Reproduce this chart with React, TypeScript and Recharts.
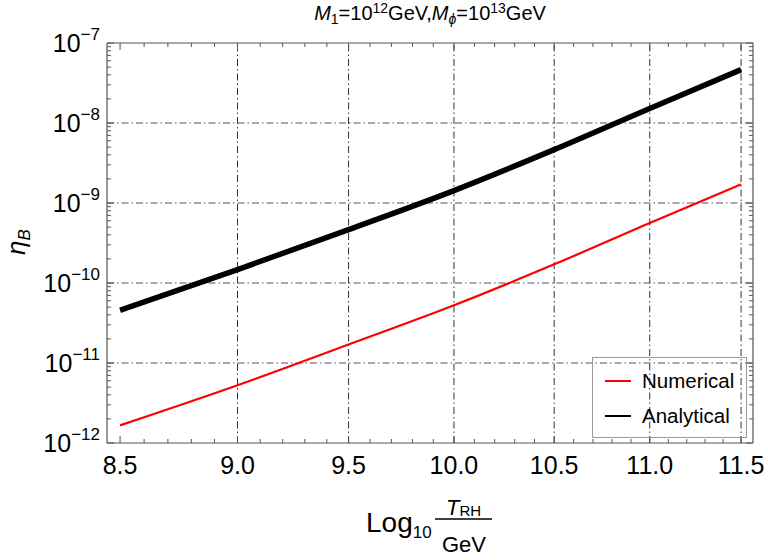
import React from 'react';
import { LineChart, Line, XAxis, YAxis, ReferenceLine, Legend } from 'recharts';

// log10(T_RH / GeV) sample points
const logT = [8.5, 9.0, 9.5, 10.0, 10.5, 11.0, 11.5];
// baryon asymmetry eta_B
const numerical = [1.66e-12, 5.26e-12, 1.7e-11, 5.26e-11, 1.71e-10, 5.62e-10, 1.71e-9];
const analytical = [4.56e-11, 1.47e-10, 4.65e-10, 1.43e-9, 4.65e-9, 1.52e-8, 4.65e-8];

const xMajorTicks = [8.5, 9.0, 9.5, 10.0, 10.5, 11.0, 11.5];
const xGridValues = [9.0, 9.5, 10.0, 10.5, 11.0, 11.5];
const yExponents = [-12, -11, -10, -9, -8, -7];
const yGridValues = [1e-11, 1e-10, 1e-9, 1e-8];
const yMinorMantissas = [2, 3, 4, 5, 6, 7, 8, 9];

const series = [
  { key: 'numerical', name: 'Numerical', color: '#ff0000', width: 2.2 },
  { key: 'analytical', name: 'Analytical', color: '#000000', width: 5.5 },
];

const rows = logT.map((x, i) => ({ x, numerical: numerical[i], analytical: analytical[i] }));

// tick sets: majors plus four minors between neighbours
const xTicks: number[] = [];
xMajorTicks.forEach((m, i) => {
  xTicks.push(m);
  if (i < xMajorTicks.length - 1) for (let k = 1; k <= 4; k++) xTicks.push(+(m + k * 0.1).toFixed(2));
});
const yTicks: number[] = [];
yExponents.forEach((e, i) => {
  yTicks.push(Math.pow(10, e));
  if (i < yExponents.length - 1) yMinorMantissas.forEach((m) => yTicks.push(m * Math.pow(10, e)));
});

const W = 768;
const H = 560;
const BOX = { left: 107, right: 753, top: 43, bottom: 443 };
const FONT = '"Liberation Sans", Arial, Helvetica, sans-serif';
const FRAME = '#555';

const isMajorX = (v: number) => Math.abs(v * 2 - Math.round(v * 2)) < 1e-6;
const isMajorY = (v: number) => {
  const l = Math.log10(v);
  return Math.abs(l - Math.round(l)) < 1e-6;
};

const BottomTick = (p: any) => {
  const v = p.payload.value;
  const major = isMajorX(v);
  return (
    <g>
      <line x1={p.x} x2={p.x} y1={BOX.bottom} y2={BOX.bottom - (major ? 7 : 4)} stroke={FRAME} />
      {major && (
        <text x={p.x} y={474} textAnchor="middle" fontSize={25} fontFamily={FONT} fill="#000">
          {v.toFixed(1)}
        </text>
      )}
    </g>
  );
};

const TopTick = (p: any) => {
  const major = isMajorX(p.payload.value);
  return <line x1={p.x} x2={p.x} y1={BOX.top} y2={BOX.top + (major ? 7 : 4)} stroke={FRAME} />;
};

const LeftTick = (p: any) => {
  const v = p.payload.value;
  const major = isMajorY(v);
  const e = Math.round(Math.log10(v));
  return (
    <g>
      <line x1={BOX.left} x2={BOX.left + (major ? 7 : 4)} y1={p.y} y2={p.y} stroke={FRAME} />
      {major && (
        <text x={100} y={p.y + 9} textAnchor="end" fontSize={25} fontFamily={FONT} fill="#000">
          <tspan>10</tspan>
          <tspan fontSize={17} dy={-12}>{'\u2212' + Math.abs(e)}</tspan>
        </text>
      )}
    </g>
  );
};

const RightTick = (p: any) => {
  const major = isMajorY(p.payload.value);
  return <line x1={BOX.right} x2={BOX.right - (major ? 7 : 4)} y1={p.y} y2={p.y} stroke={FRAME} />;
};

const XTitle = () => (
  <g fontFamily={FONT} fill="#000">
    <text x={366} y={532} fontSize={28}>
      Log
      <tspan fontSize={17} dy={6}>10</tspan>
    </text>
    <text x={446} y={515} fontSize={22} fontStyle="italic">
      T<tspan fontSize={15} fontStyle="normal" dy={1}>RH</tspan>
    </text>
    <line x1={435} x2={492} y1={519} y2={519} stroke="#000" strokeWidth={1.5} />
    <text x={464} y={552} fontSize={22} textAnchor="middle">GeV</text>
  </g>
);

const YTitle = () => (
  <text
    x={0}
    y={0}
    transform="translate(25 242) rotate(-90)"
    textAnchor="middle"
    fontFamily={FONT}
    fontSize={26}
    fill="#000"
  >
    <tspan fontStyle="italic">η</tspan>
    <tspan fontSize={17} fontStyle="italic" dy={5}>B</tspan>
  </text>
);

const PlotTitle = () => (
  <text x={430} y={20} textAnchor="middle" fontFamily={FONT} fontSize={20} fill="#000">
    <tspan fontStyle="italic">M</tspan>
    <tspan fontSize={14} dy={4}>1</tspan>
    <tspan dy={-4}>=10</tspan>
    <tspan fontSize={14} dy={-7}>12</tspan>
    <tspan dy={7}>GeV,</tspan>
    <tspan fontStyle="italic">M</tspan>
    <tspan fontSize={14} fontStyle="italic" dy={4}>ϕ</tspan>
    <tspan dy={-4}>=10</tspan>
    <tspan fontSize={14} dy={-7}>13</tspan>
    <tspan dy={7}>GeV</tspan>
  </text>
);

const LegendBox = () => (
  <div
    style={{
      boxSizing: 'border-box',
      width: 155,
      height: 81,
      border: '1px solid #999',
      fontFamily: FONT,
      fontSize: 20.5,
      color: '#000',
      paddingTop: 5,
    }}
  >
    {series.map((s) => (
      <div key={s.key} style={{ display: 'flex', alignItems: 'center', height: 35 }}>
        <div style={{ marginLeft: 12, width: 26, height: 2, background: s.color }} />
        <span style={{ marginLeft: 11 }}>{s.name}</span>
      </div>
    ))}
  </div>
);

export default function App() {
  return (
    <div style={{ position: 'absolute', left: 0, top: 0 }}>
      <LineChart
        width={W}
        height={H}
        data={rows}
        margin={{ top: BOX.top - 1, right: W - BOX.right - 1, bottom: H - BOX.bottom - 40, left: 0 }}
      >
        <XAxis
          xAxisId="b"
          dataKey="x"
          type="number"
          scale="log"
          domain={[8.446, 11.567]}
          allowDataOverflow
          ticks={xTicks}
          interval={0}
          height={40}
          tickLine={false}
          axisLine={{ stroke: FRAME, strokeWidth: 1.2 }}
          tick={<BottomTick />}
          label={{ content: <XTitle /> }}
        />
        <XAxis
          xAxisId="t"
          orientation="top"
          dataKey="x"
          type="number"
          scale="log"
          domain={[8.446, 11.567]}
          allowDataOverflow
          ticks={xTicks}
          interval={0}
          height={1}
          tickLine={false}
          axisLine={{ stroke: FRAME, strokeWidth: 1.2 }}
          tick={<TopTick />}
          label={{ content: <PlotTitle /> }}
        />
        <YAxis
          yAxisId="l"
          type="number"
          scale="log"
          domain={[1e-12, 1e-7]}
          allowDataOverflow
          ticks={yTicks}
          interval={0}
          width={BOX.left}
          tickLine={false}
          axisLine={{ stroke: FRAME, strokeWidth: 1.2 }}
          tick={<LeftTick />}
          label={{ content: <YTitle /> }}
        />
        <YAxis
          yAxisId="r"
          orientation="right"
          type="number"
          scale="log"
          domain={[1e-12, 1e-7]}
          allowDataOverflow
          ticks={yTicks}
          interval={0}
          width={1}
          tickLine={false}
          axisLine={{ stroke: FRAME, strokeWidth: 1.2 }}
          tick={<RightTick />}
        />
        {xGridValues.map((v) => (
          <ReferenceLine
            key={'gx' + v}
            xAxisId="b"
            yAxisId="l"
            x={v}
            stroke="#333"
            strokeWidth={1}
            strokeDasharray="7 3 1.5 3"
          />
        ))}
        {yGridValues.map((v) => (
          <ReferenceLine
            key={'gy' + v}
            xAxisId="b"
            yAxisId="l"
            y={v}
            stroke="#555"
            strokeWidth={1}
            strokeDasharray="7 3 1.5 3"
          />
        ))}
        {series.map((s) => (
          <Line
            key={s.key}
            xAxisId="b"
            yAxisId="l"
            dataKey={s.key}
            name={s.name}
            type="monotone"
            stroke={s.color}
            strokeWidth={s.width}
            dot={false}
            isAnimationActive={false}
          />
        ))}
        <Legend
          layout="horizontal"
          verticalAlign="middle"
          align="center"
          width={155}
          height={81}
          wrapperStyle={{ left: 592, top: 357, width: 155, height: 81 }}
          content={<LegendBox />}
        />
      </LineChart>
    </div>
  );
}
